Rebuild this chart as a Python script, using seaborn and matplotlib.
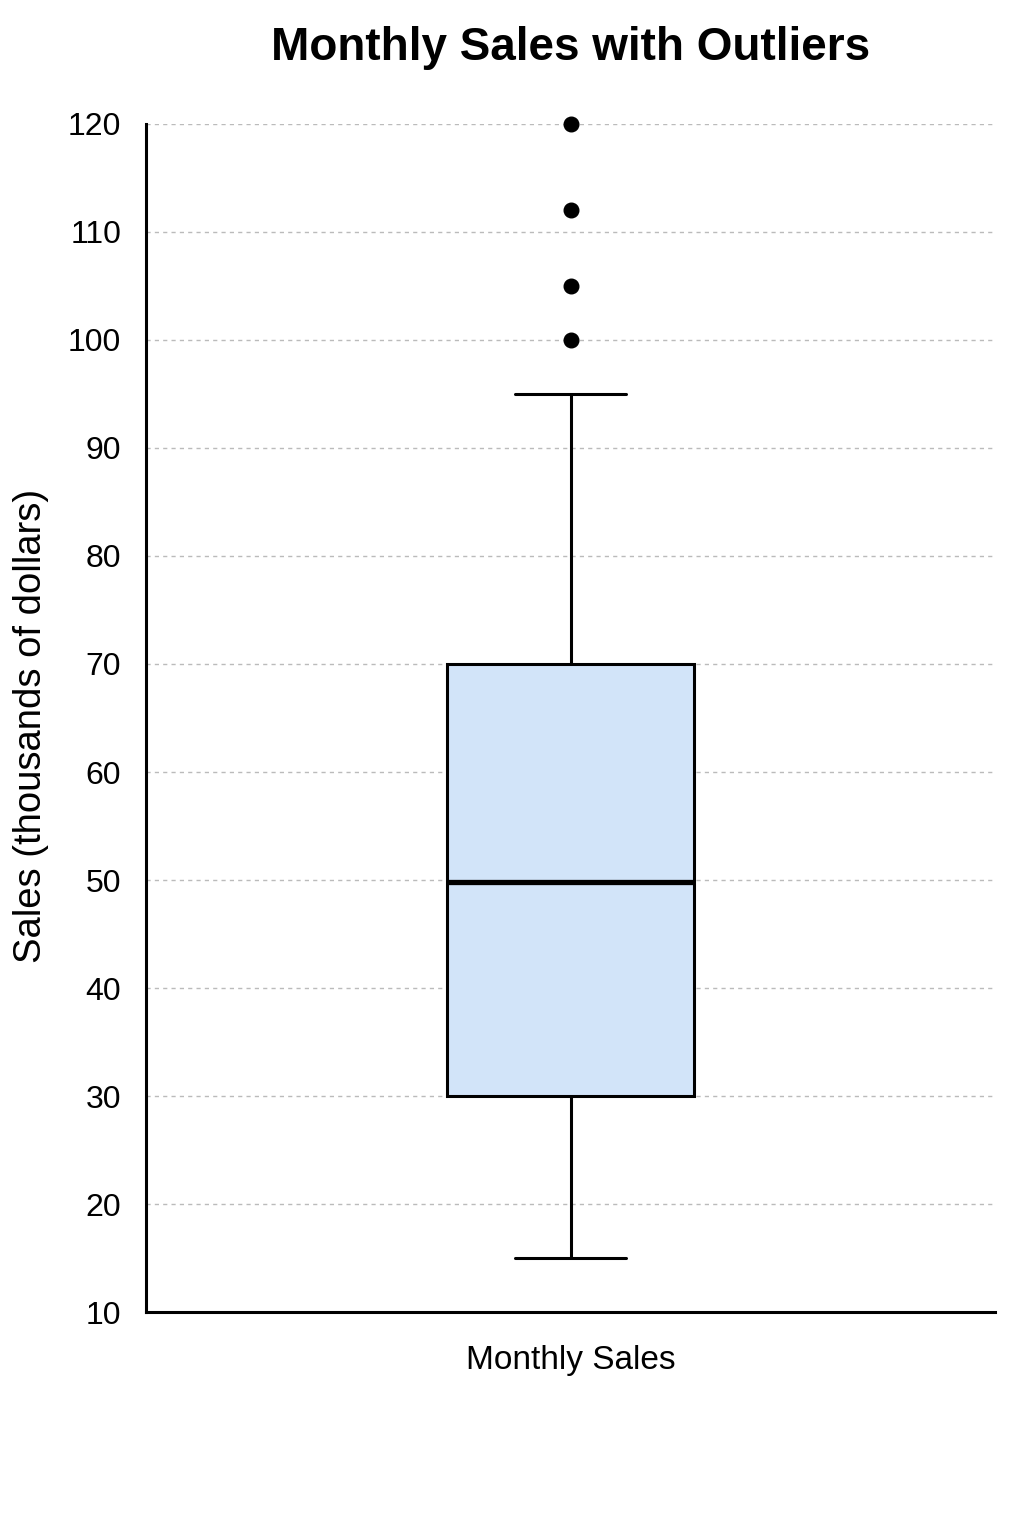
import pandas as pd
import matplotlib
matplotlib.use("Agg")
import matplotlib.pyplot as plt
import seaborn as sns

# monthly sales, thousands of dollars
category = "Monthly Sales"
sales = [15, 18, 22, 25, 28, 30, 35, 40, 44, 47, 49.8,
         53, 57, 62, 66, 70, 95, 100, 105, 112, 120]
y_ticks = list(range(10, 121, 10))

sns.set_style("white")
plt.rcParams['font.family'] = ['Liberation Sans', 'DejaVu Sans']
plt.rcParams['text.color'] = 'black'
plt.rcParams['axes.labelcolor'] = 'black'
plt.rcParams['xtick.color'] = 'black'
plt.rcParams['ytick.color'] = 'black'

df = pd.DataFrame({'category': [category] * len(sales), 'sales': sales})

fig = plt.figure(figsize=(10.24, 15.36), dpi=100)
ax = fig.add_axes([0.1426, 0.1458, 0.8291, 0.7735])

sns.boxplot(data=df, x='category', y='sales', ax=ax, whis=0.7, width=0.29,
            linecolor='black', linewidth=2.2, capwidths=0.13,
            boxprops=dict(facecolor='#d2e4f9', edgecolor='black'),
            medianprops=dict(color='black', linewidth=3.8),
            flierprops=dict(marker='o', markerfacecolor='black',
                            markeredgecolor='black', markersize=10.5))
for ln in ax.lines:
    ln.set_clip_on(False)

ax.set_ylim(10, 120)
ax.set_yticks(y_ticks)
ax.yaxis.grid(True, linestyle=(0, (3, 3)), color='#bbbbbb', linewidth=1)
ax.set_axisbelow(True)
sns.despine(ax=ax)
for side in ['left', 'bottom']:
    ax.spines[side].set_linewidth(2.2)
    ax.spines[side].set_color('black')

ax.tick_params(axis='y', length=8, width=2, pad=10, labelsize=23)
ax.tick_params(axis='x', length=0, pad=24, labelsize=24)

ax.set_xlabel('')
ax.set_ylabel('Sales (thousands of dollars)', fontsize=27.5)
ax.yaxis.set_label_coords(-0.114, 0.493)
ax.set_title('Monthly Sales with Outliers', fontsize=33, fontweight='bold',
             pad=46)

fig.savefig('out.png', dpi=100, facecolor='white')
